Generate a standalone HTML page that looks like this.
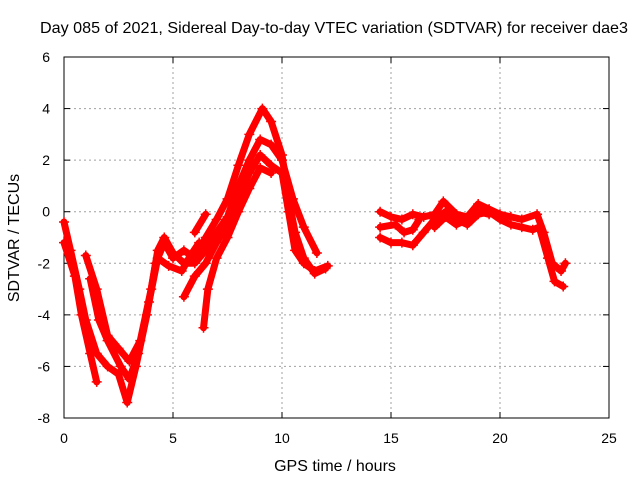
<!DOCTYPE html>
<html><head><meta charset="utf-8"><style>
body{margin:0;background:#fff}
svg text{font-family:"Liberation Sans",sans-serif;font-size:14px;fill:#000}
svg text.big{font-size:16px}
</style></head><body>
<svg id="chart" width="640" height="480" xmlns="http://www.w3.org/2000/svg">
<text class="big" x="334" y="33" text-anchor="middle" textLength="588" lengthAdjust="spacingAndGlyphs">Day 085 of 2021, Sidereal Day-to-day VTEC variation (SDTVAR) for receiver dae3</text>
<g id="grid"></g>
<g id="axes"></g>
<g id="marks"></g>
<text class="big" x="335" y="471" text-anchor="middle">GPS time / hours</text>
<text class="big" transform="translate(19,238) rotate(-90)" text-anchor="middle">SDTVAR / TECUs</text>
</svg>
<script>
const xTicks=[0,5,10,15,20,25];
const yTicks=[6,4,2,0,-2,-4,-6,-8];
const trackA=[[0,-0.4],[0.3,-1.5],[0.7,-3],[1.0,-4.2],[1.5,-5.5],[2,-6],[2.5,-6.3],[2.9,-7.4],[3.3,-6],[3.8,-4],[4.2,-2],[4.6,-1.2],[5.0,-1.8],[5.5,-1.5],[6,-1.8],[6.5,-1],[7,-0.3],[7.5,0.5],[8,1.8],[8.5,3],[9.1,4],[9.5,3.5],[10,2.2],[10.3,0.5],[10.6,-0.8],[11,-1.8],[11.5,-2.4],[12,-2.2]];
const trackB=[[0,-1.2],[0.5,-2.5],[0.8,-4],[1.2,-5.5],[1.5,-6.6]];
const trackC=[[1.0,-1.7],[1.5,-3],[2,-4.8],[2.5,-5.3],[3,-5.8],[3.5,-5],[4,-3],[4.3,-1.5],[4.6,-1.0],[5,-1.6],[5.5,-2],[6,-2],[6.5,-1.5],[7,-0.8],[7.5,-0.2],[8,1],[8.5,2],[9,2.8],[9.5,2.6],[10,2],[10.5,0.5],[11,-0.6],[11.6,-1.6]];
const trackD=[[5.5,-3.3],[6,-2.5],[6.5,-2],[7,-1.2],[7.5,-0.5],[8,0.5],[8.5,1.5],[9,2.2],[9.5,1.8],[10,1.5],[10.3,0],[10.6,-1.5],[11,-2],[11.5,-2.3],[12.1,-2.1]];
const trackE=[[6.4,-4.5],[6.6,-3],[7,-1.8],[7.5,-1],[8,0],[8.5,0.9],[9,1.7],[9.5,1.5]];
const trackF=[[6.0,-0.8],[6.5,-0.1]];
const trackG=[[14.5,0],[15,-0.2],[15.5,-0.3],[16,-0.1],[16.5,-0.2],[17,-0.1],[17.4,0.4],[18,-0.1],[18.5,-0.2],[19,0.3],[19.5,0.1],[20,-0.1],[20.5,-0.2],[21,-0.3],[21.7,-0.1],[22,-0.8],[22.4,-2],[22.8,-2.3],[23,-2]];
const trackH=[[14.5,-1],[15,-1.2],[15.5,-1.2],[16,-1.3],[16.5,-0.8],[17,-0.3],[17.5,0],[18,-0.3],[18.5,-0.5],[19,-0.1],[19.5,0],[20,-0.3],[20.5,-0.5],[21,-0.6],[21.5,-0.7],[21.8,-0.6],[22.2,-1.8],[22.5,-2.7],[22.9,-2.9]];
const trackI=[[14.5,-0.6],[15.2,-0.5],[15.6,-0.8],[16,-0.7],[16.3,-0.3]];
const trackJ=[[1.2,-2.6],[1.6,-4.2],[2.0,-5.0],[2.6,-6.0],[3.0,-6.5],[3.4,-5.5],[3.9,-3.5],[4.3,-1.8],[4.8,-2.1],[5.4,-2.3],[5.8,-1.7],[6.2,-1.2]];
const trackK=[[17,-0.6],[17.5,-0.2],[18,-0.5],[18.5,-0.3],[19,0],[19.5,-0.1]];
const tracks=[trackA,trackB,trackC,trackD,trackE,trackF,trackG,trackH,trackI,trackJ,trackK];
const L=64,R=609,T=57,B=418;
const sx=v=>L+(v-0)/(25-0)*(R-L);
const sy=v=>B-(v+8)/(14)*(B-T);
const NS='http://www.w3.org/2000/svg';
const mk=(t,a,p)=>{const e=document.createElementNS(NS,t);for(const k in a)e.setAttribute(k,a[k]);p.appendChild(e);return e;};
const grid=document.getElementById('grid'),axes=document.getElementById('axes'),marks=document.getElementById('marks');
xTicks.forEach(v=>{
  if(v>0&&v<25){const g=mk('line',{x1:sx(v),x2:sx(v),y1:T,y2:B,stroke:'#a0a0a0','stroke-dasharray':'2,3'},grid);
  
  }
  const t=mk('text',{x:sx(v),y:B+25,'text-anchor':'middle'},axes);t.textContent=v;
  
  
  mk('line',{x1:sx(v),x2:sx(v),y1:B,y2:B-6,stroke:'#000'},axes);
  mk('line',{x1:sx(v),x2:sx(v),y1:T,y2:T+6,stroke:'#000'},axes);
});
yTicks.forEach(v=>{
  if(v>-8&&v<6){const g=mk('line',{x1:L,x2:R,y1:sy(v),y2:sy(v),stroke:'#a0a0a0','stroke-dasharray':'2,3'},grid);
  
  }
  const t=mk('text',{x:L-14,y:sy(v)+5,'text-anchor':'end'},axes);t.textContent=v;
  
  
  mk('line',{x1:L,x2:L+6,y1:sy(v),y2:sy(v),stroke:'#000'},axes);
  mk('line',{x1:R,x2:R-6,y1:sy(v),y2:sy(v),stroke:'#000'},axes);
});
const fr=mk('rect',{x:L,y:T,width:R-L,height:B-T,fill:'none',stroke:'#000'},axes);


tracks.forEach(tr=>{
  const pl=mk('polyline',{points:tr.map(p=>sx(p[0])+','+sy(p[1])).join(' '),fill:'none',stroke:'#f00','stroke-width':7,'stroke-linejoin':'round','stroke-linecap':'round'},marks);
  
  
  tr.forEach(p=>{
    const x=sx(p[0]),y=sy(p[1]);
    const m=mk('path',{d:`M${x-5},${y}H${x+5}M${x},${y-5}V${y+5}`,stroke:'#f00','stroke-width':1.5},marks);
    
    
  });
});
</script>
</body></html>
